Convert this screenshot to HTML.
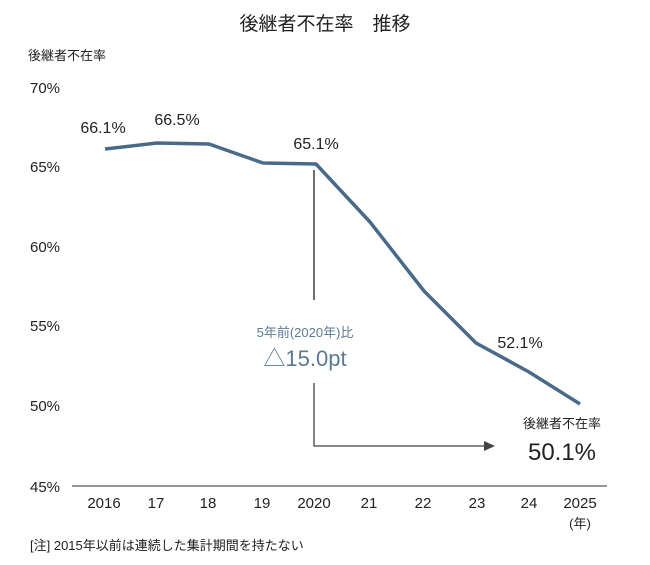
<!DOCTYPE html>
<html><head><meta charset="utf-8"><style>
body{margin:0;background:#fff;}
svg text{font-family:"Liberation Sans","Noto Sans CJK JP",sans-serif;fill:#222;}
</style></head><body>
<svg width="650" height="560" viewBox="0 0 650 560" xmlns="http://www.w3.org/2000/svg">
<text x="325" y="30" font-size="19" text-anchor="middle" fill="#222">後継者不在率　推移</text>
<text x="28" y="60" font-size="13">後継者不在率</text>
<g font-size="15">
<text x="30" y="93">70%</text>
<text x="30" y="172">65%</text>
<text x="30" y="252">60%</text>
<text x="30" y="331">55%</text>
<text x="30" y="411">50%</text>
<text x="30" y="492">45%</text>
</g>
<line x1="72" y1="486" x2="607" y2="486" stroke="#555" stroke-width="1.2"/>
<g font-size="15" text-anchor="middle">
<text x="104" y="508">2016</text><text x="156" y="508">17</text><text x="208" y="508">18</text>
<text x="262" y="508">19</text><text x="314" y="508">2020</text><text x="369" y="508">21</text>
<text x="423" y="508">22</text><text x="477" y="508">23</text><text x="529" y="508">24</text>
<text x="580" y="508">2025</text>
</g>
<text x="580" y="528" font-size="13" text-anchor="middle">(年)</text>
<text x="30" y="550" font-size="13">[注]  2015年以前は連続した集計期間を持たない</text>
<polyline fill="none" stroke="#4a6a8a" stroke-width="3.5" stroke-linejoin="round"
 points="105,149 157,143 209,144 263,163 316,164 370,222 424,291 476,343 529,372 580,404"/>
<line x1="314" y1="170" x2="314" y2="300" stroke="#222" stroke-width="1.3"/>
<polyline fill="none" stroke="#444" stroke-width="1.3" points="314,383 314,446 485,446"/>
<polygon points="495,446 484,441 484,451" fill="#444"/>
<g font-size="16" text-anchor="middle">
<text x="103" y="133">66.1%</text><text x="177" y="125">66.5%</text>
<text x="316" y="149">65.1%</text><text x="520" y="348">52.1%</text>
</g>
<text x="305" y="337" font-size="13" text-anchor="middle" fill="#5a7a96" style="fill:#5a7a96">5年前(2020年)比</text>
<text x="305" y="366" font-size="22" text-anchor="middle" style="fill:#5a7a96">△15.0pt</text>
<text x="562" y="428" font-size="13" text-anchor="middle">後継者不在率</text>
<text x="562" y="460" font-size="24" text-anchor="middle">50.1%</text>
</svg>
</body></html>
